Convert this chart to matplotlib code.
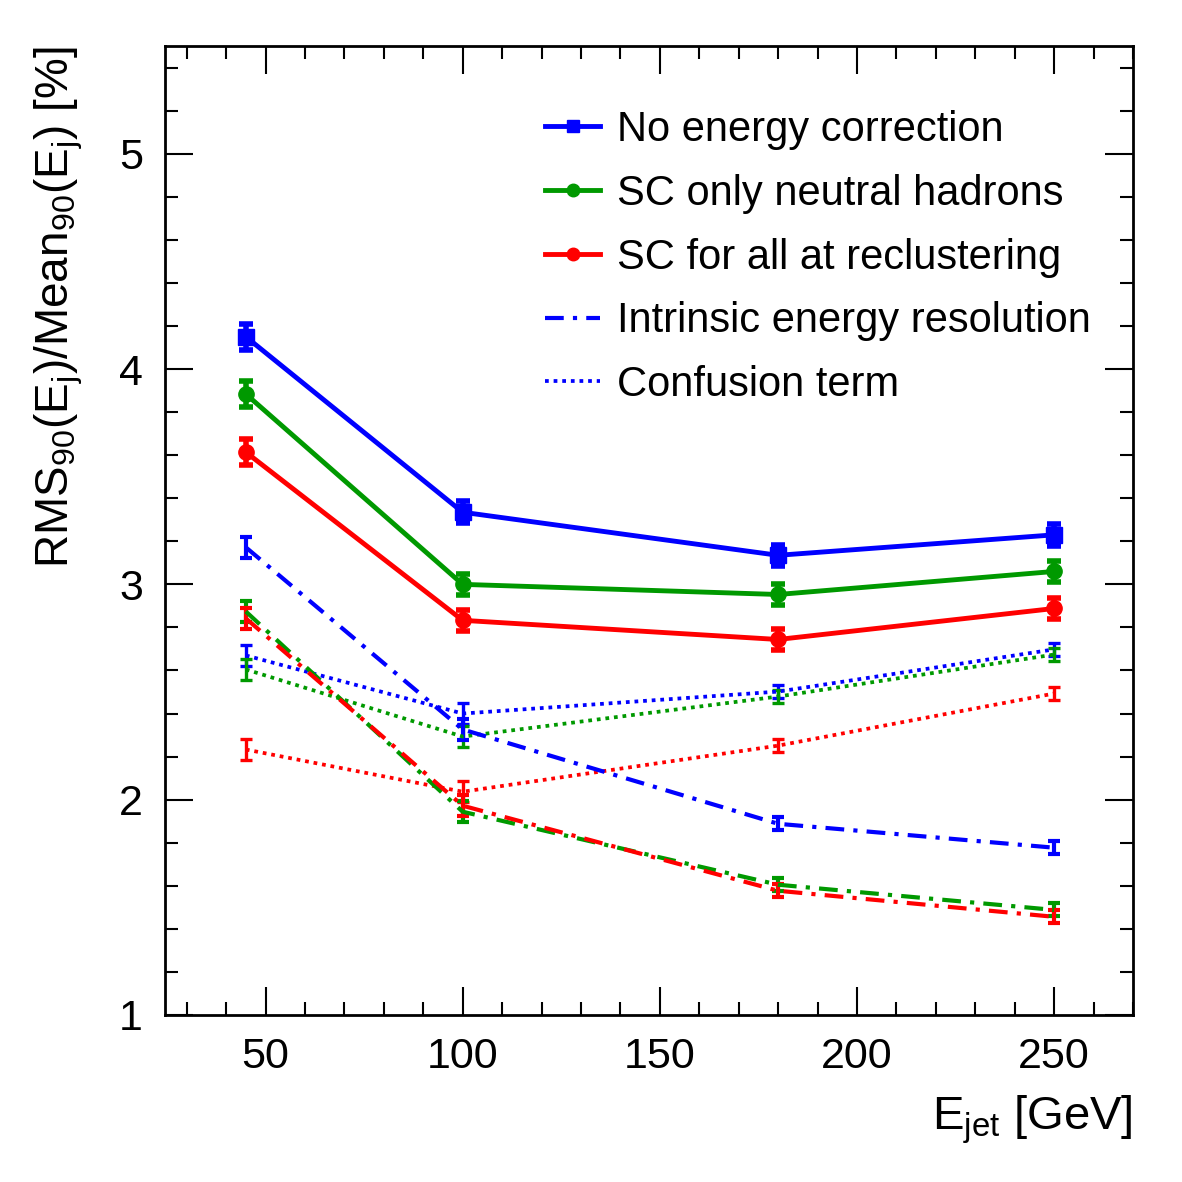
import matplotlib
matplotlib.use('Agg')
import matplotlib.pyplot as plt
from matplotlib.ticker import MultipleLocator
from matplotlib.lines import Line2D

plt.rcParams['font.family'] = ['Liberation Sans', 'DejaVu Sans']
plt.rcParams['mathtext.default'] = 'regular'

# jet energies [GeV]
e_jet = [45, 100, 180, 250]

# RMS90/Mean90 [%]
no_corr = [4.15, 3.335, 3.135, 3.23]
sc_neutral = [3.884, 3.00, 2.953, 3.06]
sc_all = [3.614, 2.833, 2.744, 2.888]

intr_no_corr = [3.172, 2.326, 1.888, 1.777]
intr_neutral = [2.874, 1.944, 1.605, 1.488]
intr_all = [2.842, 1.972, 1.577, 1.456]

conf_no_corr = [2.67, 2.40, 2.502, 2.698]
conf_neutral = [2.605, 2.293, 2.479, 2.674]
conf_all = [2.233, 2.037, 2.251, 2.493]

err_main = [0.06, 0.05, 0.05, 0.05]
err_other = [0.05, 0.05, 0.03, 0.03]

blue = '#0000ff'
green = '#009900'
red = '#ff0000'

dashdot = (0, (4.5, 2.2, 1, 2.2))
dotted = (0, (1, 1.3))

fig = plt.figure(figsize=(11.82, 11.82), dpi=100)
ax = fig.add_axes([0.1396, 0.1413, 0.8189, 0.8197])

# confusion term (dotted)
for y, c in [(conf_no_corr, blue), (conf_neutral, green), (conf_all, red)]:
    ax.errorbar(e_jet, y, yerr=err_other, color=c, lw=2.7, ls=dotted,
                elinewidth=2.4, capsize=4, capthick=2.4)

# intrinsic resolution (dash-dot)
for y, c in [(intr_no_corr, blue), (intr_neutral, green), (intr_all, red)]:
    ax.errorbar(e_jet, y, yerr=err_other, color=c, lw=3.0, ls=dashdot,
                elinewidth=3.0, capsize=4, capthick=3.0)

# total resolution (solid)
ax.errorbar(e_jet, no_corr, yerr=err_main, color=blue, lw=3.5, marker='s', ms=11,
            elinewidth=4, capsize=5, capthick=4)
ax.errorbar(e_jet, sc_neutral, yerr=err_main, color=green, lw=3.5, marker='o', ms=11,
            elinewidth=4, capsize=5, capthick=4)
ax.errorbar(e_jet, sc_all, yerr=err_main, color=red, lw=3.5, marker='o', ms=11,
            elinewidth=4, capsize=5, capthick=4)

ax.set_xlim(24.5, 270)
ax.set_ylim(1, 5.5)
ax.xaxis.set_major_locator(MultipleLocator(50))
ax.xaxis.set_minor_locator(MultipleLocator(10))
ax.yaxis.set_major_locator(MultipleLocator(1))
ax.yaxis.set_minor_locator(MultipleLocator(0.2))
ax.tick_params(which='both', direction='in', top=True, right=True, width=1.5)
ax.tick_params(which='major', length=20, labelsize=31)
ax.tick_params(axis='x', which='major', pad=16)
ax.tick_params(axis='y', which='major', pad=16)
ax.tick_params(which='minor', length=9.5)
for s in ax.spines.values():
    s.set_linewidth(2)

ax.set_xlabel(r'E$_{jet}$ [GeV]', fontsize=34, loc='right', labelpad=12)
ax.set_ylabel(r'RMS$_{90}$(E$_{j}$)/Mean$_{90}$(E$_{j}$) [%]', fontsize=33,
              loc='top', labelpad=24)

handles = [
    Line2D([], [], color=blue, lw=3.5, marker='s', ms=9),
    Line2D([], [], color=green, lw=3.5, marker='o', ms=9),
    Line2D([], [], color=red, lw=3.5, marker='o', ms=9),
    Line2D([], [], color=blue, lw=3.0, ls=dashdot),
    Line2D([], [], color=blue, lw=2.7, ls=dotted),
]
labels = ['No energy correction', 'SC only neutral hadrons',
          'SC for all at reclustering', 'Intrinsic energy resolution',
          'Confusion term']
ax.legend(handles, labels, loc='upper left', bbox_to_anchor=(0.3926, 0.934),
          frameon=False, fontsize=30, handlelength=1.32, handletextpad=0.4,
          labelspacing=0.57, borderaxespad=0, borderpad=0)

fig.savefig('out.png', dpi=100)
